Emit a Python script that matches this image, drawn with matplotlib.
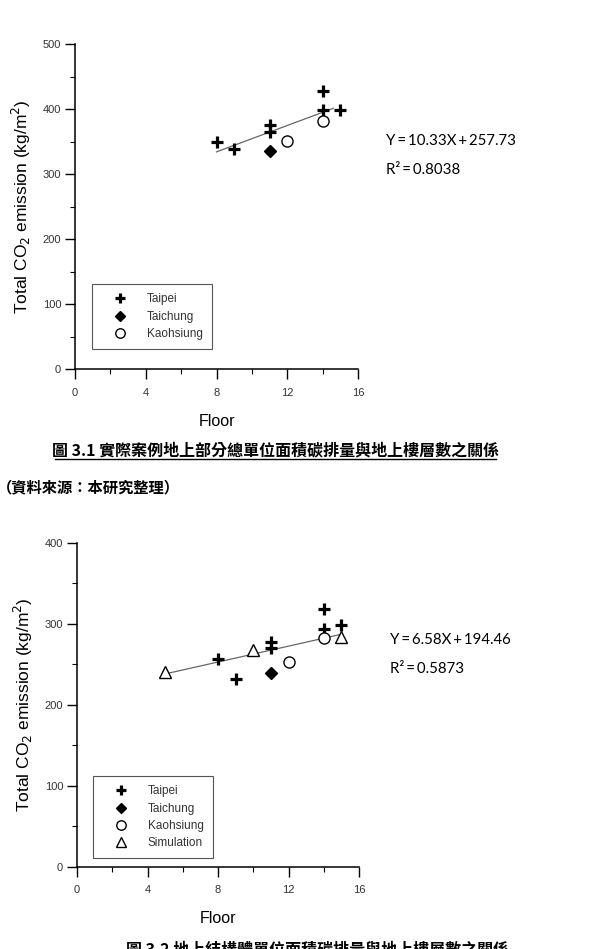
import matplotlib
matplotlib.use("Agg")
import matplotlib.pyplot as plt
from matplotlib.lines import Line2D
from matplotlib.ticker import MultipleLocator

plt.rcParams['font.family'] = ['Liberation Sans', 'DejaVu Sans']

# figure 3.1 data
taipei1_x = [8, 9, 11, 11, 14, 14, 15]
taipei1_y = [350, 338, 365, 375, 427, 399, 399]
taichung1_x = [11]
taichung1_y = [336]
kaoh1_x = [12, 14]
kaoh1_y = [351, 382]
fit1_x = [8, 14.6]
fit1_y = [334, 401]
eq1 = ["Y\u2009=\u200910.33X\u2009+\u2009257.73", "R²\u2009=\u20090.8038"]

# figure 3.2 data
taipei2_x = [8, 9, 11, 11, 14, 14, 15]
taipei2_y = [257, 232, 278, 270, 318, 294, 298]
taichung2_x = [11]
taichung2_y = [239]
kaoh2_x = [12, 14]
kaoh2_y = [253, 282]
sim2_x = [5, 10, 15]
sim2_y = [240, 268, 283]
fit2_x = [5, 15]
fit2_y = [238, 287]
eq2 = ["Y\u2009=\u20096.58X\u2009+\u2009194.46", "R²\u2009=\u20090.5873"]

cap1 = "圖 3.1 實際案例地上部分總單位面積碳排量與地上樓層數之關係"
src1 = "（資料來源：本研究整理）"
cap2 = "圖 3.2 地上結構體單位面積碳排量與地上樓層數之關係"

W, H = 597, 949
fig = plt.figure(figsize=(W / 100, H / 100), dpi=100)
cjk = ['Noto Sans CJK TC', 'DejaVu Sans']
eqfont = ['Lato', 'DejaVu Sans']


def setup_axes(ax, ymax, ystep):
    ax.set_xlim(0, 16)
    ax.set_ylim(0, ymax)
    for s in ['top', 'right']:
        ax.spines[s].set_visible(False)
    for s in ['left', 'bottom']:
        ax.spines[s].set_linewidth(1.1)
    ax.xaxis.set_major_locator(MultipleLocator(4))
    ax.xaxis.set_minor_locator(MultipleLocator(2))
    ax.yaxis.set_major_locator(MultipleLocator(ystep))
    ax.yaxis.set_minor_locator(MultipleLocator(ystep / 2))
    ax.tick_params(which='major', length=7, width=1, labelsize=8,
                   labelcolor='#333333')
    ax.tick_params(axis='x', which='major', pad=6.5)
    ax.tick_params(axis='y', which='major', pad=3)
    ax.tick_params(which='minor', length=3.5, width=0.8)
    ax.set_xlabel("Floor", fontsize=11.5)
    ax.set_ylabel("Total CO$_2$ emission (kg/m$^2$)", fontsize=12.5)
    ax.xaxis.set_label_coords(0.5, -0.138)
    ax.yaxis.set_label_coords(-0.15, 0.5)


def draw(ax, tp, tc, ka, fit, sim=None):
    ax.plot(fit[0], fit[1], color='#666666', lw=0.9, zorder=1)
    ax.plot(tp[0], tp[1], '+', color='black', ms=8, mew=2.3, ls='none',
            label='Taipei', zorder=3)
    ax.plot(tc[0], tc[1], 'D', color='black', ms=6, ls='none',
            label='Taichung', zorder=3)
    ax.plot(ka[0], ka[1], 'o', mfc='white', mec='black', ms=8, mew=1,
            ls='none', label='Kaohsiung', zorder=3)
    if sim is not None:
        ax.plot(sim[0], sim[1], '^', mfc='white', mec='black', ms=8, mew=1,
                ls='none', label='Simulation', zorder=3)


def legend(ax, box):
    hs, ls = ax.get_legend_handles_labels()
    leg = ax.legend(hs, ls, loc='upper left', fontsize=8.5, frameon=True,
                    fancybox=False, edgecolor='#555555', framealpha=1,
                    bbox_to_anchor=box, bbox_transform=fig.transFigure,
                    handlelength=3.15, handletextpad=0.7, labelspacing=0.44,
                    borderpad=0.8, borderaxespad=0, markerscale=0.85)
    leg.get_frame().set_linewidth(0.8)
    for t in leg.get_texts():
        t.set_color('#333333')
    return leg


# top chart
ax1 = fig.add_axes([75 / W, 1 - 369 / H, 283 / W, 325 / H])
setup_axes(ax1, 500, 100)
draw(ax1, (taipei1_x, taipei1_y), (taichung1_x, taichung1_y),
     (kaoh1_x, kaoh1_y), (fit1_x, fit1_y))
legend(ax1, (92 / W, 1 - 284 / H))
fig.text(386 / W, 1 - 141 / H, eq1[0], fontsize=10.8, family=eqfont, va='center')
fig.text(386 / W, 1 - 170 / H, eq1[1], fontsize=10.8, family=eqfont, va='center')

# captions
fig.text(276 / W, 1 - 450 / H, cap1, fontsize=11.5, family=cjk, ha='center',
         va='center', fontweight='bold')
fig.add_artist(Line2D([55 / W, 496 / W], [1 - 459 / H, 1 - 459 / H],
                      color='black', lw=1))
fig.text(-3 / W, 1 - 487 / H, src1, fontsize=11, family=cjk, ha='left',
         va='center', fontweight='bold')

# bottom chart
ax2 = fig.add_axes([77 / W, 1 - 866.7 / H, 282 / W, 324 / H])
setup_axes(ax2, 400, 100)
draw(ax2, (taipei2_x, taipei2_y), (taichung2_x, taichung2_y),
     (kaoh2_x, kaoh2_y), (fit2_x, fit2_y), (sim2_x, sim2_y))
legend(ax2, (93 / W, 1 - 776 / H))
fig.text(390 / W, 1 - 640 / H, eq2[0], fontsize=10.8, family=eqfont, va='center')
fig.text(390 / W, 1 - 669 / H, eq2[1], fontsize=10.8, family=eqfont, va='center')

fig.text(318 / W, 1 - 949 / H, cap2, fontsize=11.5, family=cjk, ha='center',
         va='center', fontweight='bold')

fig.savefig("out.png", dpi=100)
